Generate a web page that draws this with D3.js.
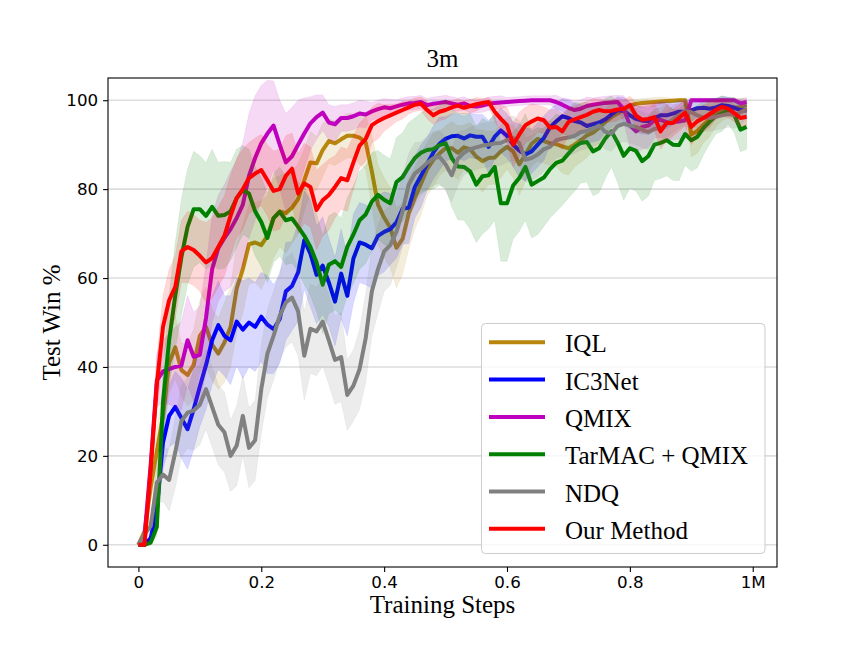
<!DOCTYPE html>
<html>
<head>
<meta charset="utf-8">
<script src="https://cdn.jsdelivr.net/npm/d3@7"></script>
<style>
  body { margin: 0; background: #fff; }
</style>
</head>
<body>
<script>
// training steps, logged every 10k
var steps = d3.range(100).map(function(i){ return i * 10000; });

var xTicks = [0, 200000, 400000, 600000, 800000, 1000000];
var xTickLabels = ["0", "0.2", "0.4", "0.6", "0.8", "1M"];
var yTicks = [0, 20, 40, 60, 80, 100];

var names = ["IQL", "IC3Net", "QMIX", "TarMAC + QMIX", "NDQ", "Our Method"];
var colors = ["#b8860b", "#0000ff", "#bf00bf", "#008000", "#808080", "#ff0000"];

var iql = [0, 3, 13, 21, 29, 41, 44.4, 39.3, 38.2, 40.5,
  47, 49, 45, 43, 45.5, 49, 57.7, 62, 67.6, 68,
  67.4, 69.5, 73.5, 75, 74.6, 75.8, 77.8, 82, 86, 85.8,
  88.8, 90.8, 90.3, 91.2, 92, 92, 91.6, 90.5, 84, 76.5,
  73.6, 71.3, 66.8, 68.8, 74.5, 78, 81.2, 84.5, 86.6, 88,
  89.2, 89.2, 88.2, 89.4, 89, 87.3, 86.3, 87, 87.1, 88.5,
  89.5, 88.5, 85.6, 87.8, 90.2, 91.3, 90.8, 90.3, 90.1, 89.6,
  89.2, 90, 91, 92.1, 92.7, 93.8, 95.1, 96.2, 97, 97.9,
  98.8, 99.2, 99.4, 99.5, 99.6, 99.7, 99.8, 99.9, 100, 100,
  92.3, 93.1, 94.5, 95.8, 97, 97.9, 98.1, 98.3, 98.5, 98.9];
var iqlSpread = [0, 1, 3, 5, 6, 7, 7, 6, 7, 8,
  8, 9, 8, 8, 9, 9, 10, 10, 9, 9,
  10, 9, 9, 8, 9, 8, 8, 7, 7, 6,
  6, 5, 5, 5, 5, 5, 6, 6, 8, 9,
  9, 9, 9, 8, 8, 7, 7, 6, 6, 5,
  5, 6, 6, 5, 6, 6, 7, 6, 6, 6,
  5, 6, 7, 6, 5, 5, 5, 5, 5, 6,
  6, 5, 5, 5, 4, 4, 3, 3, 3, 2,
  1.5, 1, 1, 1, 1, 1, 0.8, 0.5, 0.3, 0.3,
  5, 5, 4, 4, 3, 2.5, 2, 2, 2, 1.5];

var ic3net = [0, 0, 1.5, 8, 23, 29, 31, 28.5, 26, 30.5,
  35.6, 40.4, 46, 49.4, 47, 46, 50.2, 48.4, 50, 49,
  51.3, 49.5, 48.5, 50.8, 57, 58.2, 61.3, 68.5, 65.5, 60.7,
  62.8, 59, 54.7, 61, 56, 64.4, 68, 67.5, 66.7, 69.5,
  70.4, 71, 72.5, 75.6, 75.8, 80.5, 83, 85.7, 88.2, 90.2,
  91.3, 91.9, 92, 91.4, 92.1, 91.8, 91.8, 89.5, 91.8, 93.2,
  92, 90, 88.7, 87.8, 88.5, 90, 91.5, 93.9, 95.2, 96.4,
  96, 95.3, 95, 94.2, 94.6, 95, 95.7, 96.8, 97.8, 97.6,
  96.6, 95.8, 95.4, 95.3, 96, 96.6, 96.6, 97, 97.4, 97.4,
  97.7, 98.2, 98.3, 98.1, 98.4, 98.9, 98.7, 98.3, 97.8, 97.7];
var ic3netSpread = [0, 0, 1, 3, 6, 7, 8, 9, 9, 9,
  9, 10, 10, 10, 9, 10, 10, 11, 10, 10,
  10, 11, 10, 10, 11, 10, 11, 11, 12, 11,
  11, 10, 10, 10, 9, 10, 9, 9, 9, 9,
  9, 8, 8, 8, 8, 7, 7, 6, 6, 6,
  5, 5, 5, 5, 5, 5, 5, 6, 5, 5,
  5, 5, 6, 6, 5, 5, 5, 4, 4, 4,
  4, 4, 4, 4, 4, 4, 3, 3, 3, 3,
  3, 3, 3, 3, 3, 3, 3, 2.5, 2.5, 2.5,
  2.5, 2, 2, 2, 2, 2, 2, 2, 2, 2];

var qmix = [0, 2, 18, 37, 39, 39.5, 40, 40.3, 46, 42.3,
  42.7, 51, 62, 66.7, 69, 71, 73.5, 76.5, 83, 87,
  90.3, 92.5, 94.3, 90, 86, 87.4, 90, 92.5, 94.8, 96.2,
  97.2, 95, 94.6, 96, 96, 96.4, 97, 96.8, 97.5, 98,
  98.4, 98.2, 98.6, 99, 99.3, 99.4, 99.6, 98.9, 99.2, 99.4,
  99.6, 99.3, 99, 99.3, 98.7, 98.6, 98.8, 99.2, 99.4, 99.5,
  99.6, 99.7, 99.8, 99.9, 100, 100, 100, 100, 99.6, 99,
  98.3, 97.8, 98.1, 98.7, 99, 99.2, 99.4, 99.5, 99.6, 98,
  94.4, 93, 94, 94.3, 95.5, 95.6, 95.1, 95.1, 95.2, 95.5,
  100, 100, 100, 100, 100, 100, 100, 100, 99.3, 99.6];
var qmixSpread = [0, 1, 4, 6, 7, 8, 9, 10, 10, 10,
  11, 12, 12, 12, 12, 13, 13, 14, 14, 14,
  13, 12, 10, 10, 11, 11, 10, 8, 6, 5,
  4, 4, 4, 3, 3, 3, 3, 3, 2, 2,
  2, 2, 1.5, 1.5, 1.5, 1.5, 1.5, 1.5, 1.5, 1.5,
  1.5, 1.5, 1.5, 1.5, 1.5, 1.5, 1.5, 1.5, 1.5, 1.5,
  1, 1, 1, 1, 1, 1, 1, 1, 1.5, 1.5,
  2, 2, 2, 2, 1.5, 1.5, 1.5, 1.5, 1.5, 3,
  5, 5, 5, 5, 4, 4, 4, 4, 4, 4,
  0.5, 0.5, 0.5, 0.5, 0.5, 0.5, 0.5, 0.5, 1, 1];

var tarmac = [0, 0, 0.5, 4, 32, 46, 56, 64.7, 71.5, 75.5,
  75.5, 74, 76, 74, 74.2, 75, 78, 79.8, 79, 75,
  72.6, 69, 73.5, 74.9, 73, 73.4, 71.5, 69.5, 67, 63.5,
  58.5, 63, 63.8, 62.5, 67, 69.8, 73, 74.3, 77.2, 78.7,
  77.6, 76.8, 81.6, 82.7, 85, 87, 88.2, 88.8, 89, 89.9,
  90.3, 87, 85.1, 85, 84, 81, 82.9, 83.1, 85, 76.8,
  76.8, 80.8, 82.5, 85, 81, 81.8, 82.6, 84.5, 85.9, 86.4,
  88, 89.5, 90.4, 90.6, 88.5, 89.2, 91.4, 93, 90.5, 87.5,
  89.2, 88.6, 86.3, 87.4, 90, 90.4, 91, 90, 89.9, 92.4,
  91, 91.8, 93.8, 95.2, 96.4, 97, 97.6, 96.7, 93.4, 94];
var tarmacSpread = [0, 0, 0.5, 2, 8, 10, 12, 13, 13, 13,
  12, 12, 13, 12, 12, 11, 11, 10, 10, 10,
  10, 10, 10, 10, 10, 10, 10, 11, 11, 11,
  11, 11, 11, 11, 11, 11, 11, 11, 11, 10,
  10, 10, 10, 10, 10, 9, 9, 9, 9, 9,
  10, 11, 12, 12, 13, 13, 13, 12, 12, 13,
  13, 12, 12, 12, 12, 12, 11, 11, 11, 10,
  10, 10, 9, 9, 10, 10, 9, 8, 9, 10,
  9, 9, 9, 9, 8, 8, 8, 8, 8, 7,
  7, 7, 6, 5, 4, 4, 3, 4, 5, 5];

var ndq = [0, 2.4, 4.2, 14, 15.8, 14.6, 20.8, 27.8, 29.7, 30.2,
  31.5, 35, 31, 27, 25.3, 20, 22.3, 29, 21.8, 23.5,
  35, 43, 47, 51.5, 54.5, 55.6, 52.5, 42.5, 48.6, 48,
  50.2, 46, 41.6, 42.2, 33.7, 35.8, 39.5, 46.5, 57, 62,
  66, 67.4, 70.4, 75, 81, 83.5, 84.6, 85.9, 86.9, 87.3,
  85.6, 83.1, 86.8, 88.2, 89, 89.4, 89.8, 90, 90.3, 90.4,
  91, 91.5, 90.3, 86.6, 87, 87.8, 89, 89.5, 91, 91.4,
  91.6, 92, 92.8, 93.1, 93.6, 94.3, 92.9, 92.5, 94.2, 94.7,
  94.3, 94, 93.4, 92.8, 93.6, 93.7, 94.7, 95.7, 96.7, 97.5,
  97.3, 96.6, 96.1, 96, 96.3, 96.6, 96.9, 96.7, 97.3, 98];
var ndqSpread = [0, 1, 2, 5, 6, 7, 8, 8, 8, 9,
  9, 9, 9, 9, 9, 8, 9, 9, 9, 9,
  10, 10, 10, 10, 10, 10, 10, 10, 10, 10,
  10, 10, 10, 10, 8, 8, 9, 10, 10, 10,
  9, 9, 8, 8, 7, 7, 6, 6, 6, 6,
  6, 6, 6, 5, 5, 5, 5, 5, 5, 5,
  5, 5, 5, 5, 5, 5, 5, 4, 4, 4,
  4, 4, 4, 4, 4, 4, 4, 4, 4, 4,
  4, 4, 4, 4, 4, 3, 3, 3, 3, 3,
  3, 3, 3, 3, 3, 3, 3, 3, 3, 2];

var ours = [0, 0, 17, 36, 49, 55, 58, 66, 67, 66.3,
  65, 63.5, 64.5, 67, 69.5, 74, 78, 80, 82.5, 83.5,
  84.3, 82, 79.6, 80, 83, 84.6, 79, 81.3, 80.5, 75.3,
  77.5, 78.7, 80.5, 82.5, 82, 86, 89.8, 91.3, 94.4, 95.3,
  96, 96.6, 97.2, 97.8, 98.4, 99, 99.2, 97.8, 96.6, 97.4,
  97.8, 98.4, 98.8, 98.3, 98.7, 99.1, 99.4, 99.6, 97.4, 95.8,
  94.4, 90, 92.3, 94.4, 95.2, 95.9, 95.5, 93.8, 94, 93,
  95.1, 95.7, 96.2, 96.7, 97.4, 97.8, 97.5, 97.6, 97.9, 98.1,
  98.9, 96.5, 95.6, 95.8, 96.2, 93, 94.9, 94.9, 96, 97.2,
  94, 95.3, 96, 96.9, 97.8, 98.5, 98.1, 97.1, 96, 96.3];
var oursSpread = [0, 0, 3, 6, 7, 7, 7, 7, 8, 8,
  8, 9, 9, 9, 9, 9, 9, 9, 8, 8,
  8, 8, 9, 9, 9, 8, 9, 9, 9, 9,
  8, 8, 7, 7, 7, 6, 5, 5, 4, 4,
  3, 2.5, 2, 2, 1.5, 1.5, 1.5, 2, 2, 2,
  2, 1.5, 1.5, 1.5, 1.5, 1.5, 1, 1, 2, 3,
  4, 5, 5, 4, 4, 3, 3, 4, 4, 4,
  3, 3, 3, 3, 3, 2.5, 2.5, 2.5, 2.5, 2,
  2, 3, 3, 3, 3, 4, 4, 3, 3, 3,
  4, 3, 3, 3, 2, 2, 2, 2, 2, 2];

var means = [iql, ic3net, qmix, tarmac, ndq, ours];
var spreads = [iqlSpread, ic3netSpread, qmixSpread, tarmacSpread, ndqSpread, oursSpread];

var width = 864, height = 648;
var plotLeft = 108, plotRight = 777, plotTop = 78, plotBottom = 567;
var serif = "'Times New Roman', 'Liberation Serif', serif";

var xScale = d3.scaleLinear().domain([-49500, 1039500]).range([plotLeft, plotRight]);
var yScale = d3.scaleLinear().domain([-5, 105]).range([plotBottom, plotTop]);

var svg = d3.select("body").append("svg")
  .attr("width", width)
  .attr("height", height);

// horizontal grid
svg.append("g")
  .selectAll("line")
  .data(yTicks)
  .enter()
  .append("line")
  .attr("x1", plotLeft)
  .attr("x2", plotRight)
  .attr("y1", function(d){ return yScale(d); })
  .attr("y2", function(d){ return yScale(d); })
  .attr("stroke", "#dddddd")
  .attr("stroke-width", 1.6);

var plot = svg.append("g");

names.forEach(function(name, k) {
  var m = means[k], s = spreads[k];
  var area = d3.area()
    .x(function(d, i){ return xScale(steps[i]); })
    .y0(function(d, i){ return yScale(d - s[i]); })
    .y1(function(d, i){ return yScale(d + s[i]); });
  var line = d3.line()
    .x(function(d, i){ return xScale(steps[i]); })
    .y(function(d){ return yScale(d); });

  plot.append("path")
    .datum(m)
    .attr("d", area)
    .attr("fill", colors[k])
    .attr("fill-opacity", 0.15)
    .attr("stroke", colors[k])
    .attr("stroke-opacity", 0.08);

  plot.append("path")
    .datum(m)
    .attr("d", line)
    .attr("fill", "none")
    .attr("stroke", colors[k])
    .attr("stroke-width", 4)
    .attr("stroke-linejoin", "round");
});

// axes
var xAxis = d3.axisBottom(xScale)
  .tickValues(xTicks)
  .tickFormat(function(d, i){ return xTickLabels[i]; })
  .tickSize(4.9)
  .tickPadding(4.5);
var yAxis = d3.axisLeft(yScale)
  .tickValues(yTicks)
  .tickSize(4.9)
  .tickPadding(4.9);

var xAxisGroup = svg.append("g")
  .attr("transform", "translate(0," + plotBottom + ")")
  .call(xAxis);
var yAxisGroup = svg.append("g")
  .attr("transform", "translate(" + plotLeft + ",0)")
  .call(yAxis);

[xAxisGroup, yAxisGroup].forEach(function(g) {
  g.select(".domain").remove();
  g.attr("font-family", "'DejaVu Sans', sans-serif").attr("font-size", 16.7);
  g.selectAll("line").attr("stroke", "#000").attr("stroke-width", 1.1);
  g.selectAll("text").attr("fill", "#000");
});

svg.append("rect")
  .attr("x", plotLeft)
  .attr("y", plotTop)
  .attr("width", plotRight - plotLeft)
  .attr("height", plotBottom - plotTop)
  .attr("fill", "none")
  .attr("stroke", "#000")
  .attr("stroke-width", 1.1);

// labels
svg.append("text")
  .attr("x", (plotLeft + plotRight) / 2)
  .attr("y", 67)
  .attr("text-anchor", "middle")
  .attr("font-family", serif)
  .attr("font-size", 25)
  .text("3m");

svg.append("text")
  .attr("x", (plotLeft + plotRight) / 2)
  .attr("y", 613)
  .attr("text-anchor", "middle")
  .attr("font-family", serif)
  .attr("font-size", 25)
  .text("Training Steps");

svg.append("text")
  .attr("transform", "translate(60," + ((plotTop + plotBottom) / 2) + ") rotate(-90)")
  .attr("text-anchor", "middle")
  .attr("font-family", serif)
  .attr("font-size", 25)
  .text("Test Win %");

// legend
var legend = svg.append("g");
legend.append("rect")
  .attr("x", 481.5)
  .attr("y", 323.5)
  .attr("width", 283.5)
  .attr("height", 230)
  .attr("rx", 4)
  .attr("fill", "#fff")
  .attr("fill-opacity", 0.8)
  .attr("stroke", "#cccccc")
  .attr("stroke-width", 1);

var rows = legend.selectAll("g.row")
  .data(names)
  .enter()
  .append("g")
  .attr("class", "row")
  .attr("transform", function(d, i){ return "translate(0," + (342.3 + i * 37.3) + ")"; });

rows.append("line")
  .attr("x1", 489)
  .attr("x2", 545)
  .attr("stroke", function(d, i){ return colors[i]; })
  .attr("stroke-width", 4);

rows.append("text")
  .attr("x", 565)
  .attr("y", 10)
  .attr("font-family", serif)
  .attr("font-size", 25)
  .text(function(d){ return d; });
</script>
</body>
</html>
